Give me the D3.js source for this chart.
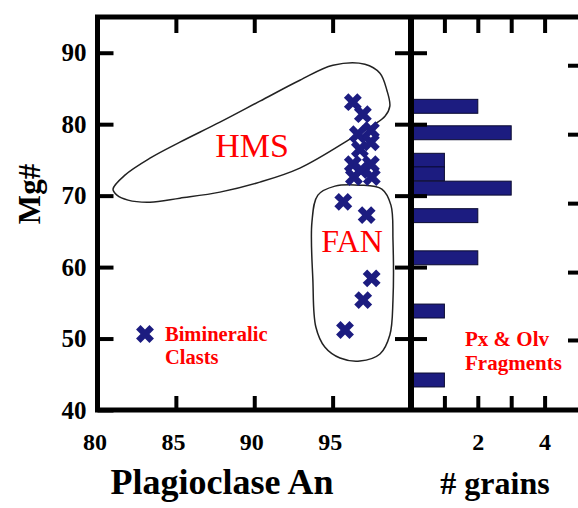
<!DOCTYPE html>
<html>
<head>
<meta charset="utf-8">
<script src="https://cdn.jsdelivr.net/npm/d3@7"></script>
<style>
  html, body { margin: 0; padding: 0; background: #fff; }
  svg { display: block; }
</style>
</head>
<body>
<svg id="chart" width="578" height="508"></svg>
<script>
// ---------------- data ----------------
const xTicks = [80, 85, 90, 95];
const yTicks = [40, 50, 60, 70, 80, 90];
const histTicks = [1, 2, 3, 4];
const histRightTicks = [88.25, 78.6, 68.95, 59.3, 49.8];

// Bimineralic clasts: Plagioclase An vs Mg#
const pointsAn = [96.29, 96.93, 96.61, 97.44, 96.74, 97.44, 96.29, 97.44, 96.8, 96.36, 97.5, 95.68, 97.17, 97.49, 96.95, 95.79];
const pointsMg = [83.08, 81.4, 78.6, 79.16, 76.5, 77.48, 74.4, 74.4, 73.57, 72.6, 72.6, 69.13, 67.27, 58.42, 55.38, 51.19];

// Px & Olv fragments histogram (bin centre Mg#, count)
const binCenters = [82.5, 78.8, 74.95, 73.05, 71.05, 67.2, 61.3, 53.85, 44.2];
const binCounts  = [2, 3, 1, 1, 3, 2, 2, 1, 1];
const binWidth = 1.95;

// Field outlines (An, Mg#)
const hmsAn = [80.99, 81.75, 83.35, 85.26, 87.81, 90.36, 92.91, 95.02, 97.06, 98.02, 98.46, 98.65, 98.34, 96.1, 92.91, 90.36, 87.81, 85.26, 83.35, 81.95, 81.24];
const hmsMg = [70.91, 72.87, 75.24, 77.48, 80.28, 83.22, 86.15, 88.25, 88.39, 87.13, 84.76, 82.52, 81.12, 77.9, 73.85, 71.89, 70.49, 69.65, 69.09, 69.37, 70.07];
const fanAn = [93.68, 93.74, 93.93, 94.5, 95.47, 96.74, 98.02, 98.65, 98.85, 98.85, 98.72, 98.14, 96.74, 95.15, 94.06];
const fanMg = [66.29, 58.18, 51.61, 48.81, 47.27, 46.85, 47.83, 50.49, 55.38, 63.78, 68.67, 70.91, 71.47, 71.33, 70.07];

// ---------------- layout ----------------
const svg = d3.select("#chart");
svg.append("rect").attr("width", 578).attr("height", 508).attr("fill", "#fff");

const L = 97.5, D = 411, R = 578, T = 17, B = 410;
const x = d3.scaleLinear().domain([80, 100]).range([L, D]);
const y = d3.scaleLinear().domain([40, 95]).range([B, T]);
const hx = d3.scaleLinear().domain([0, 5]).range([D, R]);

const serif = "'Liberation Serif', 'Times New Roman', serif";
const navy = "#1c1c80";

// field outlines
const line = d3.line().x(d => x(d[0])).y(d => y(d[1])).curve(d3.curveCatmullRomClosed.alpha(0.5));
svg.append("path").attr("d", line(hmsAn.map((a, i) => [a, hmsMg[i]])))
  .attr("fill", "none").attr("stroke", "#222").attr("stroke-width", 1.5);
svg.append("path").attr("d", line(fanAn.map((a, i) => [a, fanMg[i]])))
  .attr("fill", "none").attr("stroke", "#222").attr("stroke-width", 1.5);

// field labels
svg.append("text").attr("x", 252).attr("y", 157).attr("text-anchor", "middle")
  .attr("font-family", serif).attr("font-size", 34).attr("fill", "#f00").text("HMS");
svg.append("text").attr("x", 352).attr("y", 252).attr("text-anchor", "middle")
  .attr("font-family", serif).attr("font-size", 32).attr("fill", "#f00").text("FAN");

// histogram bars
svg.append("g").selectAll("rect").data(binCenters).join("rect")
  .attr("x", hx(0))
  .attr("y", d => y(d + binWidth / 2))
  .attr("width", (d, i) => hx(binCounts[i]) - hx(0))
  .attr("height", d => y(d - binWidth / 2) - y(d + binWidth / 2))
  .attr("fill", navy).attr("stroke", "#0a0a30").attr("stroke-width", 1);

// points
const cross = d3.symbol().type(d3.symbolCross).size(200);
svg.append("g").selectAll("path").data(pointsAn).join("path")
  .attr("d", cross)
  .attr("transform", (d, i) => `translate(${x(d)},${y(pointsMg[i])}) rotate(45)`)
  .attr("fill", navy);

// axes
function styleAxis(g, fs) {
  g.select(".domain").remove();
  g.selectAll(".tick line").attr("stroke", "#000").attr("stroke-width", 4);
  g.selectAll(".tick text").attr("font-family", serif).attr("font-weight", "bold")
    .attr("font-size", fs).attr("fill", "#000");
}
// left
svg.append("g").attr("transform", `translate(${L},0)`)
  .call(d3.axisLeft(y).tickValues(yTicks).tickSize(-16).tickPadding(11).tickFormat(d3.format("d")))
  .call(g => styleAxis(g, 25));
// main bottom
svg.append("g").attr("transform", `translate(0,${B})`)
  .call(d3.axisBottom(x).tickValues(xTicks).tickSize(-14).tickPadding(23).tickFormat(d3.format("d")))
  .call(g => styleAxis(g, 24))
  .call(g => g.selectAll(".tick text").attr("dx", -3));
// main top
svg.append("g").attr("transform", `translate(0,${T})`)
  .call(d3.axisTop(x).tickValues(xTicks.slice(1)).tickSize(-16).tickFormat(""))
  .call(g => styleAxis(g, 24));
// main right (inward from divider)
svg.append("g").attr("transform", `translate(${D},0)`)
  .call(d3.axisRight(y).tickValues(yTicks.slice(1)).tickSize(-16).tickFormat(""))
  .call(g => styleAxis(g, 24));
// histogram left
svg.append("g").attr("transform", `translate(${D},0)`)
  .call(d3.axisLeft(y).tickValues(yTicks.slice(1)).tickSize(-16).tickFormat(""))
  .call(g => styleAxis(g, 24));
// histogram right
svg.append("g").attr("transform", `translate(${R},0)`)
  .call(d3.axisRight(y).tickValues(histRightTicks).tickSize(-10).tickFormat(""))
  .call(g => styleAxis(g, 24));
// histogram bottom
svg.append("g").attr("transform", `translate(0,${B})`)
  .call(d3.axisBottom(hx).tickValues(histTicks).tickSize(-14).tickPadding(23)
    .tickFormat(d => d % 2 === 0 ? d : ""))
  .call(g => styleAxis(g, 24));
// histogram top
svg.append("g").attr("transform", `translate(0,${T})`)
  .call(d3.axisTop(hx).tickValues(histTicks).tickSize(-16).tickFormat(""))
  .call(g => styleAxis(g, 24));

// frame
svg.append("path")
  .attr("d", `M${R + 5},${T} H${L} V${B} H${R + 5}`)
  .attr("fill", "none").attr("stroke", "#000").attr("stroke-width", 5);
svg.append("line").attr("x1", D).attr("x2", D).attr("y1", T).attr("y2", B)
  .attr("stroke", "#000").attr("stroke-width", 6);

// axis titles
svg.append("text").attr("transform", "translate(40,194) rotate(-90)").attr("text-anchor", "middle")
  .attr("font-family", serif).attr("font-weight", "bold").attr("font-size", 31).text("Mg#");
svg.append("text").attr("x", 222).attr("y", 494).attr("text-anchor", "middle")
  .attr("font-family", serif).attr("font-weight", "bold").attr("font-size", 36).text("Plagioclase An");
svg.append("text").attr("x", 495).attr("y", 494).attr("text-anchor", "middle")
  .attr("font-family", serif).attr("font-weight", "bold").attr("font-size", 32).text("# grains");

// legends
svg.append("path").attr("d", cross).attr("transform", "translate(145,334) rotate(45)").attr("fill", navy);
const leg1 = svg.append("text").attr("font-family", serif).attr("font-weight", "bold")
  .attr("font-size", 20.5).attr("fill", "#f00");
leg1.append("tspan").attr("x", 165).attr("y", 341).text("Bimineralic");
leg1.append("tspan").attr("x", 165).attr("y", 364).text("Clasts");
const leg2 = svg.append("text").attr("font-family", serif).attr("font-weight", "bold")
  .attr("font-size", 21).attr("fill", "#f00");
leg2.append("tspan").attr("x", 465).attr("y", 346).text("Px & Olv");
leg2.append("tspan").attr("x", 465).attr("y", 370).text("Fragments");
</script>
</body>
</html>
